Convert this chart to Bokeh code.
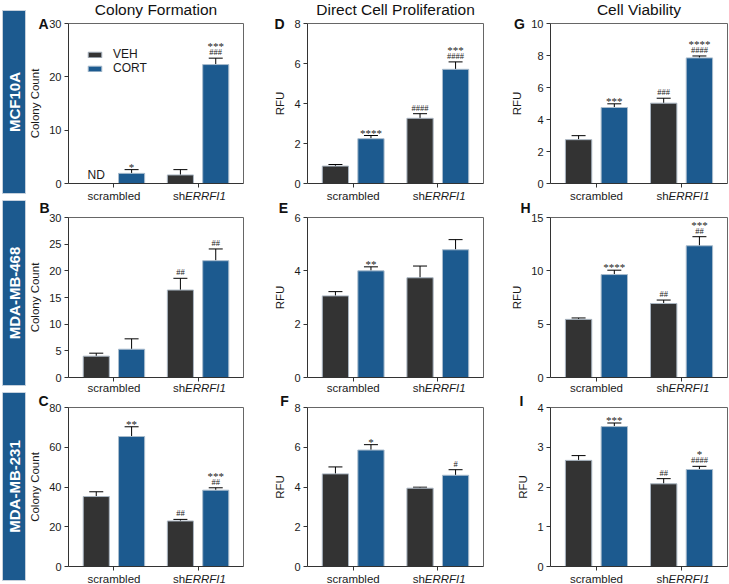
import math
from bokeh.plotting import figure
from bokeh.layouts import row, column
from bokeh.models import (Range1d, FixedTicker, Label, LabelSet, Whisker, TeeHead,
                          ColumnDataSource, Legend, LegendItem, CustomLabelingPolicy)
from bokeh.embed import file_html
from bokeh.resources import INLINE

FONT = "Liberation Sans"
VEH_COLOR = "#333333"
CORT_COLOR = "#1c5a8f"
BOX_COLOR = "#1c5a8f"
TXT = "#1a1a1a"

categories = ["scrambled", "shERRFI1"]
conditions = ["VEH", "CORT"]
column_titles = ["Colony Formation", "Direct Cell Proliferation", "Cell Viability"]
row_titles = ["MCF10A", "MDA-MB-468", "MDA-MB-231"]

# significance order: scrambled VEH, scrambled CORT, shERRFI1 VEH, shERRFI1 CORT
# ---- A: MCF10A colony count
A_veh = [0.0, 1.6]
A_veh_top = [0.0, 2.6]
A_cort = [1.9, 22.3]
A_cort_top = [2.6, 23.5]
A_star = ["", "*", "", "***"]
A_hash = ["", "", "", "###"]
A_ticks = [0, 10, 20, 30]
# ---- D: MCF10A proliferation
D_veh = [0.87, 3.26]
D_veh_top = [0.95, 3.49]
D_cort = [2.24, 5.71]
D_cort_top = [2.40, 6.08]
D_star = ["", "****", "", "***"]
D_hash = ["", "", "####", "####"]
D_ticks = [0, 2, 4, 6, 8]
# ---- G: MCF10A viability
G_veh = [2.74, 5.02]
G_veh_top = [2.99, 5.33]
G_cort = [4.75, 7.85]
G_cort_top = [4.98, 7.97]
G_star = ["", "***", "", "****"]
G_hash = ["", "", "###", "####"]
G_ticks = [0, 2, 4, 6, 8, 10]
# ---- B: MDA-MB-468 colony count
B_veh = [4.0, 16.4]
B_veh_top = [4.56, 18.6]
B_cort = [5.3, 21.9]
B_cort_top = [7.25, 24.1]
B_star = ["", "", "", ""]
B_hash = ["", "", "##", "##"]
B_ticks = [0, 5, 10, 15, 20, 25, 30]
# ---- E: MDA-MB-468 proliferation
E_veh = [3.06, 3.74]
E_veh_top = [3.22, 4.18]
E_cort = [4.00, 4.79]
E_cort_top = [4.15, 5.17]
E_star = ["", "**", "", ""]
E_hash = ["", "", "", ""]
E_ticks = [0, 2, 4, 6]
# ---- H: MDA-MB-468 viability
H_veh = [5.45, 6.94]
H_veh_top = [5.58, 7.26]
H_cort = [9.65, 12.35]
H_cort_top = [10.06, 13.2]
H_star = ["", "****", "", "***"]
H_hash = ["", "", "##", "##"]
H_ticks = [0, 5, 10, 15]
# ---- C: MDA-MB-231 colony count
C_veh = [35.2, 22.9]
C_veh_top = [37.6, 23.7]
C_cort = [65.4, 38.4]
C_cort_top = [70.3, 39.6]
C_star = ["", "**", "", "***"]
C_hash = ["", "", "##", "##"]
C_ticks = [0, 20, 40, 60, 80]
# ---- F: MDA-MB-231 proliferation
F_veh = [4.66, 3.94]
F_veh_top = [5.01, 3.99]
F_cort = [5.86, 4.59]
F_cort_top = [6.13, 4.87]
F_star = ["", "*", "", ""]
F_hash = ["", "", "", "#"]
F_ticks = [0, 2, 4, 6, 8]
# ---- I: MDA-MB-231 viability
I_veh = [2.67, 2.08]
I_veh_top = [2.79, 2.21]
I_cort = [3.52, 2.44]
I_cort_top = [3.61, 2.52]
I_star = ["", "***", "", "*"]
I_hash = ["", "", "##", "####"]
I_ticks = [0, 1, 2, 3, 4]

OFF = 0.21
BW = 0.31
X0, X1 = 0.46, 2.54

COLS = [dict(w=220, bl=40, br=5),
        dict(w=241, bl=59, br=6),
        dict(w=240, bl=61, br=2)]
ROWS = [dict(h=200, bt=23, bb=17, ldy=0, cdy=-6, lbt=10, lbb=7),
        dict(h=192, bt=17, bb=15, ldy=10, cdy=-4, lbt=0, lbb=7),
        dict(h=192, bt=15, bb=18, ldy=7, cdy=-6, lbt=0, lbb=4)]


def make_panel(letter, veh, veh_top, cort, cort_top, stars, hashes, ticks, ylabel,
               c, r, ldx, title=None, legend=False, nd=False):
    ymax = ticks[-1]
    fw = c["w"] - c["bl"] - c["br"]
    fh = r["h"] - r["bt"] - r["bb"]
    ux = (X1 - X0) / fw
    uy = ymax / fh
    p = figure(width=c["w"], height=r["h"], output_backend="svg", toolbar_location=None,
               x_range=Range1d(X0 - c["bl"] * ux, X1 + c["br"] * ux),
               y_range=Range1d(-r["bb"] * uy, ymax + r["bt"] * uy),
               min_border_left=0, min_border_right=0, min_border_top=0, min_border_bottom=0,
               background_fill_color="white", border_fill_color="white",
               outline_line_color=None)
    p.grid.visible = False
    xs = [i + 1 for i in range(len(categories))]
    x_veh = [x - OFF for x in xs]
    x_cort = [x + OFF for x in xs]
    src_v = ColumnDataSource(dict(x=x_veh, top=veh))
    src_c = ColumnDataSource(dict(x=x_cort, top=cort))
    rv = p.vbar(x="x", top="top", width=BW, source=src_v, fill_color=VEH_COLOR,
                line_color="#aab6c2", line_width=1)
    rc = p.vbar(x="x", top="top", width=BW, source=src_c, fill_color=CORT_COLOR,
                line_color="#a9bccd", line_width=1)

    # frame top and right edges
    p.segment(x0=[X0, X1], y0=[ymax, 0], x1=[X1, X1], y1=[ymax, ymax],
              line_color="#666666", line_width=1)

    # error bars (upper only)
    wx, wl, wu = [], [], []
    for xv, t, e in list(zip(x_veh, veh, veh_top)) + list(zip(x_cort, cort, cort_top)):
        if e > t:
            wx.append(xv); wl.append(t); wu.append(e)
    wsrc = ColumnDataSource(dict(x=wx, lower=wl, upper=wu))
    p.add_layout(Whisker(source=wsrc, base="x", lower="lower", upper="upper",
                         upper_head=TeeHead(size=14, line_color="black", line_width=1),
                         lower_head=None, line_color="black", line_width=1))

    # significance marks
    bx = [x_veh[0], x_cort[0], x_veh[1], x_cort[1]]
    by = [veh_top[0], cort_top[0], veh_top[1], cort_top[1]]
    sx, sy, st, so = [], [], [], []
    hx, hy, ht, ho = [], [], [], []
    for i in range(4):
        if hashes[i]:
            hx.append(bx[i]); hy.append(by[i]); ht.append(hashes[i]); ho.append(1)
        if stars[i]:
            sx.append(bx[i]); sy.append(by[i]); st.append(stars[i])
            so.append(6 if hashes[i] else -3)
    if hx:
        p.add_layout(LabelSet(source=ColumnDataSource(dict(x=hx, y=hy, t=ht, o=ho)),
                              x="x", y="y", text="t", y_offset="o", text_align="center",
                              text_baseline="bottom", text_font=FONT, text_font_size="8.5px",
                              text_color="#222222"))
    if sx:
        p.add_layout(LabelSet(source=ColumnDataSource(dict(x=sx, y=sy, t=st, o=so)),
                              x="x", y="y", text="t", y_offset="o", text_align="center",
                              text_baseline="bottom", text_font=FONT, text_font_size="11px",
                              text_color="#222222"))

    if nd:
        for xv, t in zip(x_veh, veh):
            if t == 0:
                p.add_layout(Label(x=xv, y=0, y_offset=2, text="ND", text_align="center",
                                   text_baseline="bottom", text_font=FONT,
                                   text_font_size="12px", text_color=TXT))

    # axes drawn at the plot-area edges
    p.xaxis.fixed_location = 0
    p.xaxis.bounds = (X0, X1)
    p.yaxis.fixed_location = X0
    p.yaxis.bounds = (0, ymax)
    p.yaxis.ticker = FixedTicker(ticks=ticks)
    p.yaxis.axis_label = ylabel
    p.yaxis.axis_label_text_font_style = "normal"
    p.yaxis.axis_label_text_font = FONT
    p.yaxis.axis_label_text_font_size = "11.5px"
    p.yaxis.axis_label_text_color = TXT
    p.yaxis.axis_label_standoff = 5
    p.yaxis.major_label_text_font = FONT
    p.yaxis.major_label_text_font_size = "11px"
    p.yaxis.major_label_text_color = TXT
    p.yaxis.major_label_standoff = 3
    p.xaxis.ticker = FixedTicker(ticks=xs)
    p.xaxis.major_label_policy = CustomLabelingPolicy(code="return []")
    for ax in (p.xaxis, p.yaxis):
        ax.major_tick_out = 4
        ax.major_tick_in = 0
        ax.minor_tick_out = 0
        ax.minor_tick_in = 0
        ax.axis_line_color = "#333333"
        ax.major_tick_line_color = "#333333"

    # category labels
    cdy = r["cdy"]
    p.add_layout(Label(x=xs[0], y=0, y_offset=cdy, text=categories[0], text_align="center",
                       text_baseline="top", text_font=FONT, text_font_size="11.5px",
                       text_color=TXT))
    p.add_layout(Label(x=xs[1], y=0, y_offset=cdy, x_offset=-13, text="sh", text_align="right",
                       text_baseline="top", text_font=FONT, text_font_size="11.5px",
                       text_color=TXT))
    p.add_layout(Label(x=xs[1], y=0, y_offset=cdy, x_offset=-13, text="ERRFI1",
                       text_align="left", text_baseline="top", text_font=FONT,
                       text_font_size="11.5px", text_font_style="italic", text_color=TXT))

    # panel letter
    p.add_layout(Label(x=X0, y=ymax, x_offset=ldx, y_offset=r["ldy"], text=letter,
                       text_align="center", text_baseline="middle", text_font=FONT,
                       text_font_size="14px", text_font_style="bold", text_color="#111111"))
    if title:
        p.add_layout(Label(x=(X0 + X1) / 2, y=ymax, y_offset=14.5, text=title,
                           text_align="center", text_baseline="middle", text_font=FONT,
                           text_font_size="15.5px", text_color="#111111"))
    if legend:
        lg = Legend(items=[LegendItem(label=conditions[0], renderers=[rv]),
                           LegendItem(label=conditions[1], renderers=[rc])],
                    location=(c["bl"] + 18, r["bb"] + fh - 14 - 38),
                    glyph_width=17, glyph_height=7, label_height=14,
                    label_standoff=10, spacing=0, padding=5, margin=0,
                    border_line_color=None, background_fill_alpha=0,
                    label_text_font=FONT, label_text_font_size="12px",
                    label_text_color=TXT)
        p.add_layout(lg)
    return p


def make_row_label(text, r):
    # frame fills the whole figure; the blue box is the unit square inside it
    W, bl, br = 28, 2, 3
    bw = W - bl - br
    bh = r["h"] - r["lbt"] - r["lbb"]
    p = figure(width=W, height=r["h"], output_backend="svg", toolbar_location=None,
               x_range=Range1d(-bl / bw, 1 + br / bw),
               y_range=Range1d(-r["lbb"] / bh, 1 + r["lbt"] / bh),
               x_axis_type=None, y_axis_type=None,
               min_border_left=0, min_border_right=0, min_border_top=0, min_border_bottom=0,
               background_fill_color="white", border_fill_color="white",
               outline_line_color=None)
    p.grid.visible = False
    p.quad(left=[0], right=[1], bottom=[0], top=[1], fill_color=BOX_COLOR,
           line_color="#c5d0dc", line_width=1)
    p.add_layout(Label(x=0.5, y=0.5, text=text, angle=math.pi / 2, text_align="center",
                       text_baseline="middle", text_color="white", text_font=FONT,
                       text_font_style="bold", text_font_size="15px"))
    return p


pA = make_panel("A", A_veh, A_veh_top, A_cort, A_cort_top, A_star, A_hash, A_ticks,
                "Colony Count", COLS[0], ROWS[0], -25, title=column_titles[0],
                legend=True, nd=True)
pD = make_panel("D", D_veh, D_veh_top, D_cort, D_cort_top, D_star, D_hash, D_ticks,
                "RFU", COLS[1], ROWS[0], -28, title=column_titles[1])
pG = make_panel("G", G_veh, G_veh_top, G_cort, G_cort_top, G_star, G_hash, G_ticks,
                "RFU", COLS[2], ROWS[0], -31, title=column_titles[2])
pB = make_panel("B", B_veh, B_veh_top, B_cort, B_cort_top, B_star, B_hash, B_ticks,
                "Colony Count", COLS[0], ROWS[1], -24)
pE = make_panel("E", E_veh, E_veh_top, E_cort, E_cort_top, E_star, E_hash, E_ticks,
                "RFU", COLS[1], ROWS[1], -24)
pH = make_panel("H", H_veh, H_veh_top, H_cort, H_cort_top, H_star, H_hash, H_ticks,
                "RFU", COLS[2], ROWS[1], -25)
pC = make_panel("C", C_veh, C_veh_top, C_cort, C_cort_top, C_star, C_hash, C_ticks,
                "Colony Count", COLS[0], ROWS[2], -25)
pF = make_panel("F", F_veh, F_veh_top, F_cort, F_cort_top, F_star, F_hash, F_ticks,
                "RFU", COLS[1], ROWS[2], -23)
pI = make_panel("I", I_veh, I_veh_top, I_cort, I_cort_top, I_star, I_hash, I_ticks,
                "RFU", COLS[2], ROWS[2], -29)

layout = column(
    row(make_row_label(row_titles[0], ROWS[0]), pA, pD, pG),
    row(make_row_label(row_titles[1], ROWS[1]), pB, pE, pH),
    row(make_row_label(row_titles[2], ROWS[2]), pC, pF, pI),
)

open("out.html", "w").write(file_html(layout, INLINE))
